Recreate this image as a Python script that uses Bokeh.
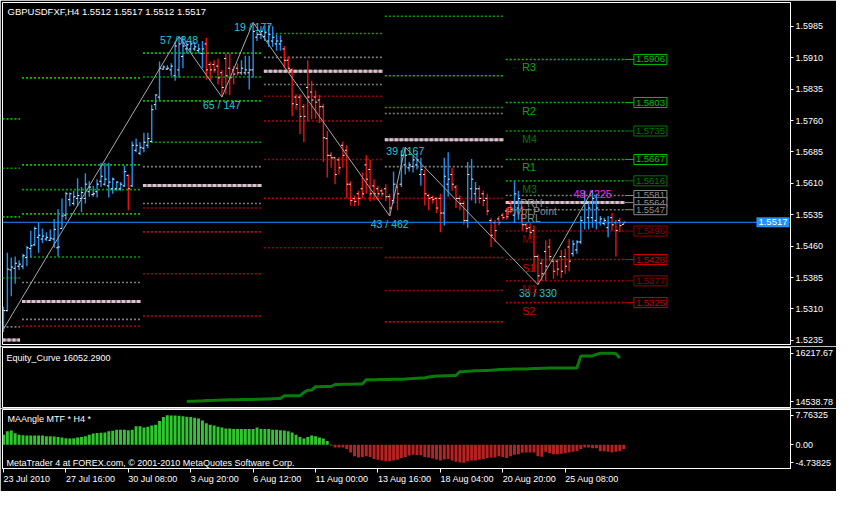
from bokeh.plotting import figure
from bokeh.models import Range1d, FixedTicker, ColumnDataSource, Label, Span, PrintfTickFormatter
from bokeh.layouts import column
from bokeh.embed import file_html
from bokeh.resources import INLINE
from bokeh.core.properties import value

FONT = "Liberation Sans"

# ---------------- data ----------------
symbol_title = "GBPUSDFXF,H4  1.5512 1.5517 1.5512 1.5517"
bid = 1.5517

opens = [1.5267, 1.5306, 1.5403, 1.5407, 1.5412, 1.5412, 1.5433, 1.5454, 1.5463, 1.5481,
         1.5477, 1.5477, 1.5474, 1.5477, 1.5456, 1.5502, 1.5534, 1.5571, 1.5562, 1.5574,
         1.5574, 1.5574, 1.5590, 1.5583, 1.5590, 1.5615, 1.5608, 1.5604, 1.5597, 1.5597,
         1.5597, 1.5604, 1.5629, 1.5604, 1.5689, 1.5682, 1.5694, 1.5701, 1.5710, 1.5798,
         1.5816, 1.5883, 1.5883, 1.5881, 1.5867, 1.5881, 1.5913, 1.5931, 1.5931, 1.5931,
         1.5927, 1.5920, 1.5943, 1.5894, 1.5894, 1.5890, 1.5874, 1.5908, 1.5885, 1.5881,
         1.5885, 1.5874, 1.5874, 1.5874, 1.5881, 1.5959, 1.5966, 1.5961, 1.5950, 1.5950,
         1.5943, 1.5943, 1.5931, 1.5904, 1.5881, 1.5816, 1.5816, 1.5793, 1.5839, 1.5828,
         1.5816, 1.5809, 1.5793, 1.5717, 1.5677, 1.5671, 1.5666, 1.5701, 1.5689, 1.5608,
         1.5574, 1.5585, 1.5597, 1.5654, 1.5643, 1.5604, 1.5597, 1.5592, 1.5597, 1.5578,
         1.5569, 1.5601, 1.5608, 1.5654, 1.5647, 1.5650, 1.5654, 1.5631, 1.5631, 1.5581,
         1.5576, 1.5574, 1.5574, 1.5539, 1.5608, 1.5631, 1.5601, 1.5574, 1.5562, 1.5521,
         1.5597, 1.5585, 1.5597, 1.5585, 1.5574, 1.5521, 1.5516, 1.5525, 1.5534, 1.5544,
         1.5562, 1.5534, 1.5551, 1.5551, 1.5511, 1.5504, 1.5497, 1.5435, 1.5419, 1.5447,
         1.5458, 1.5424, 1.5424, 1.5435, 1.5435, 1.5458, 1.5442, 1.5451, 1.5470, 1.5516,
         1.5528, 1.5528, 1.5521, 1.5516, 1.5514, 1.5504, 1.5528, 1.5516, 1.5521, 1.5512]
highs = [1.5315, 1.5444, 1.5433, 1.5435, 1.5426, 1.5442, 1.5461, 1.5497, 1.5507, 1.5516,
         1.5502, 1.5493, 1.5500, 1.5525, 1.5548, 1.5574, 1.5590, 1.5588, 1.5592, 1.5622,
         1.5601, 1.5634, 1.5615, 1.5604, 1.5620, 1.5659, 1.5659, 1.5659, 1.5624, 1.5615,
         1.5613, 1.5652, 1.5631, 1.5710, 1.5717, 1.5708, 1.5731, 1.5731, 1.5798, 1.5823,
         1.5901, 1.5892, 1.5892, 1.5897, 1.5948, 1.5961, 1.5961, 1.5950, 1.5948, 1.5948,
         1.5943, 1.5950, 1.5957, 1.5901, 1.5904, 1.5908, 1.5881, 1.5920, 1.5920, 1.5890,
         1.5897, 1.5904, 1.5915, 1.5915, 1.5994, 1.5973, 1.5985, 1.5985, 1.5989, 1.5985,
         1.5966, 1.5964, 1.5938, 1.5913, 1.5885, 1.5823, 1.5823, 1.5800, 1.5904, 1.5855,
         1.5832, 1.5821, 1.5800, 1.5735, 1.5684, 1.5673, 1.5673, 1.5710, 1.5701, 1.5615,
         1.5581, 1.5592, 1.5636, 1.5677, 1.5666, 1.5620, 1.5604, 1.5597, 1.5608, 1.5585,
         1.5638, 1.5608, 1.5689, 1.5696, 1.5661, 1.5677, 1.5682, 1.5671, 1.5643, 1.5585,
         1.5581, 1.5578, 1.5585, 1.5671, 1.5684, 1.5647, 1.5606, 1.5581, 1.5569, 1.5661,
         1.5668, 1.5613, 1.5604, 1.5592, 1.5585, 1.5528, 1.5523, 1.5532, 1.5539, 1.5551,
         1.5569, 1.5615, 1.5592, 1.5555, 1.5516, 1.5516, 1.5509, 1.5440, 1.5430, 1.5474,
         1.5477, 1.5428, 1.5430, 1.5451, 1.5454, 1.5477, 1.5474, 1.5474, 1.5532, 1.5592,
         1.5562, 1.5594, 1.5585, 1.5532, 1.5528, 1.5532, 1.5539, 1.5523, 1.5528, 1.5517]
lows = [1.5255, 1.5304, 1.5340, 1.5370, 1.5403, 1.5405, 1.5412, 1.5433, 1.5461, 1.5444,
        1.5467, 1.5472, 1.5472, 1.5456, 1.5435, 1.5502, 1.5523, 1.5555, 1.5557, 1.5555,
        1.5541, 1.5562, 1.5578, 1.5578, 1.5576, 1.5601, 1.5604, 1.5576, 1.5585, 1.5592,
        1.5592, 1.5601, 1.5546, 1.5601, 1.5684, 1.5677, 1.5684, 1.5694, 1.5708, 1.5786,
        1.5809, 1.5881, 1.5881, 1.5867, 1.5855, 1.5862, 1.5885, 1.5920, 1.5924, 1.5927,
        1.5920, 1.5885, 1.5858, 1.5855, 1.5874, 1.5846, 1.5816, 1.5823, 1.5821, 1.5846,
        1.5867, 1.5869, 1.5869, 1.5834, 1.5862, 1.5950, 1.5955, 1.5950, 1.5936, 1.5936,
        1.5927, 1.5927, 1.5885, 1.5874, 1.5770, 1.5786, 1.5728, 1.5708, 1.5758, 1.5763,
        1.5765, 1.5754, 1.5661, 1.5624, 1.5647, 1.5608, 1.5631, 1.5647, 1.5574, 1.5557,
        1.5555, 1.5557, 1.5574, 1.5585, 1.5567, 1.5569, 1.5569, 1.5578, 1.5567, 1.5532,
        1.5562, 1.5546, 1.5601, 1.5631, 1.5638, 1.5636, 1.5643, 1.5604, 1.5557, 1.5546,
        1.5562, 1.5539, 1.5493, 1.5509, 1.5578, 1.5592, 1.5551, 1.5546, 1.5511, 1.5504,
        1.5569, 1.5562, 1.5562, 1.5555, 1.5534, 1.5458, 1.5470, 1.5509, 1.5523, 1.5523,
        1.5539, 1.5516, 1.5523, 1.5497, 1.5493, 1.5477, 1.5400, 1.5368, 1.5377, 1.5377,
        1.5424, 1.5382, 1.5389, 1.5384, 1.5394, 1.5400, 1.5435, 1.5442, 1.5465, 1.5500,
        1.5500, 1.5504, 1.5500, 1.5509, 1.5509, 1.5481, 1.5497, 1.5435, 1.5493, 1.5512]
closes = [1.5306, 1.5405, 1.5410, 1.5419, 1.5417, 1.5437, 1.5456, 1.5461, 1.5502, 1.5486,
          1.5484, 1.5481, 1.5479, 1.5500, 1.5458, 1.5532, 1.5585, 1.5585, 1.5578, 1.5581,
          1.5588, 1.5608, 1.5601, 1.5585, 1.5608, 1.5627, 1.5620, 1.5613, 1.5620, 1.5613,
          1.5608, 1.5638, 1.5597, 1.5701, 1.5701, 1.5696, 1.5708, 1.5717, 1.5786, 1.5821,
          1.5885, 1.5888, 1.5885, 1.5890, 1.5938, 1.5943, 1.5938, 1.5941, 1.5943, 1.5936,
          1.5931, 1.5931, 1.5881, 1.5881, 1.5881, 1.5862, 1.5839, 1.5867, 1.5862, 1.5871,
          1.5874, 1.5885, 1.5881, 1.5881, 1.5973, 1.5966, 1.5973, 1.5971, 1.5966, 1.5959,
          1.5950, 1.5950, 1.5904, 1.5885, 1.5800, 1.5798, 1.5770, 1.5770, 1.5816, 1.5809,
          1.5804, 1.5793, 1.5719, 1.5677, 1.5671, 1.5631, 1.5647, 1.5677, 1.5608, 1.5569,
          1.5567, 1.5574, 1.5585, 1.5620, 1.5585, 1.5585, 1.5585, 1.5585, 1.5578, 1.5551,
          1.5608, 1.5585, 1.5677, 1.5677, 1.5654, 1.5666, 1.5666, 1.5643, 1.5585, 1.5574,
          1.5571, 1.5551, 1.5539, 1.5627, 1.5620, 1.5608, 1.5574, 1.5562, 1.5521, 1.5631,
          1.5620, 1.5597, 1.5574, 1.5569, 1.5544, 1.5486, 1.5497, 1.5516, 1.5528, 1.5530,
          1.5548, 1.5585, 1.5574, 1.5511, 1.5502, 1.5493, 1.5435, 1.5389, 1.5394, 1.5412,
          1.5435, 1.5400, 1.5405, 1.5400, 1.5412, 1.5424, 1.5465, 1.5470, 1.5521, 1.5562,
          1.5551, 1.5574, 1.5551, 1.5525, 1.5521, 1.5516, 1.5511, 1.5497, 1.5509, 1.5517]

# ZigZag swing points (bar index, price) and their labels
zz_idx = [0, 45, 56, 64, 99, 103, 137, 151]
zz_price = [1.5262, 1.5961, 1.5816, 1.5994, 1.5532, 1.5696, 1.5368, 1.5594]
zz_text = ["", "57 / 848", "65 / 147", "19 / 177", "43 / 462", "39 / 167", "38 / 330", "48 / 225"]

# weekly pivot levels (one value per week; None = off the chart)
week_start = [0, 5, 36, 67, 98, 129]
week_end = [5, 36, 67, 98, 129, 160]
pivot_levels = {
    "R3":  [None, 1.5862, None, None, None, 1.5906],
    "R2":  [1.5764, 1.5654, 1.5921, None, None, 1.5803],
    "M4":  [1.5646, 1.5595, 1.5864, None, 1.6009, 1.5735],
    "R1":  [1.5530, 1.5537, 1.5807, None, 1.5867, 1.5667],
    "M3":  [1.5384, 1.5434, 1.5708, 1.5968, 1.5791, 1.5616],
    "PRH": [1.5267, 1.5373, 1.5650, 1.5911, 1.5777, 1.5581],
    "Pivot Point": [1.5236, 1.5328, 1.5605, 1.5878, 1.5714, 1.5564],
    "PRL": [None, 1.5285, 1.5562, 1.5846, 1.5650, 1.5547],
    "M2":  [None, 1.5269, 1.5551, 1.5818, 1.5574, 1.5496],
    "S1":  [None, None, 1.5494, 1.5759, 1.5433, 1.5428],
    "M1":  [None, None, 1.5394, 1.5667, 1.5354, 1.5377],
    "S2":  [None, None, 1.5293, 1.5574, 1.5279, 1.5325],
    "M0":  [None, None, None, 1.5456, None, None],
}

price_ticks = [1.5985, 1.5910, 1.5835, 1.5760, 1.5685, 1.5610, 1.5535, 1.5460, 1.5385, 1.5310, 1.5235]

equity_first_bar = 47
equity = [14539, 14545, 14550, 14556, 14560, 14570, 14577, 14580, 14585, 14590,
          14595, 14598, 14600, 14603, 14605, 14607, 14607, 14610, 14615, 14620,
          14625, 14630, 14635, 14640, 14645, 14735, 14735, 14738, 14740, 14742,
          14850, 14933, 14940, 15052, 15055, 15058, 15060, 15062, 15132, 15135,
          15138, 15140, 15143, 15145, 15148, 15150, 15298, 15300, 15300, 15302,
          15305, 15305, 15308, 15310, 15312, 15315, 15320, 15330, 15340, 15350,
          15357, 15357, 15390, 15410, 15428, 15428, 15435, 15440, 15446, 15446,
          15577, 15585, 15595, 15600, 15607, 15610, 15615, 15620, 15630, 15640,
          15650, 15655, 15660, 15665, 15670, 15672, 15675, 15675, 15680, 15685,
          15690, 15695, 15700, 15702, 15704, 15704, 15704, 15704, 15704, 15704,
          15704, 16120, 16120, 16120, 16125, 16180, 16217.67, 16217, 16217, 16217,
          16200, 16052.29]
equity_ticks = [16217.67, 14538.78]

ma_angle = [2.63, 3.53, 3.76, 3.01, 2.63, 2.48, 2.41, 2.41, 2.41, 2.41,
            2.41, 2.26, 2.26, 2.18, 2.03, 1.88, 1.73, 1.65, 1.73, 1.88,
            2.03, 2.26, 2.63, 2.93, 3.08, 3.16, 3.23, 3.53, 3.68, 3.98,
            3.98, 3.98, 3.83, 3.98, 4.89, 4.89, 4.51, 4.74, 5.04, 5.26,
            6.24, 7.29, 7.76325, 7.74, 7.74, 7.67, 7.52, 7.37, 7.29, 7.14,
            6.92, 6.39, 5.64, 5.26, 5.04, 4.74, 4.51, 4.29, 4.29, 4.14,
            4.14, 4.14, 4.14, 4.14, 4.14, 4.51, 4.14, 4.14, 4.14, 3.98,
            3.98, 3.83, 3.76, 3.53, 3.23, 2.63, 2.03, 1.65, 2.03, 2.41,
            2.26, 1.88, 1.65, 0.98, -0.15, -0.75, -0.75, -0.75, -1.13, -2.03,
            -3.01, -3.38, -3.23, -3.01, -3.23, -3.76, -3.98, -4.14, -4.29, -4.29,
            -4.14, -3.98, -3.53, -3.23, -2.86, -2.63, -2.78, -2.78, -3.23, -3.38,
            -3.61, -3.91, -4.14, -3.91, -3.76, -4.14, -4.51, -4.66, -4.73825, -4.36,
            -4.14, -4.14, -3.98, -3.76, -3.53, -3.38, -3.38, -3.01, -3.23, -3.53,
            -3.01, -2.63, -2.48, -2.11, -2.03, -2.03, -2.03, -3.01, -3.16, -1.88,
            -2.26, -2.48, -2.48, -2.41, -2.26, -2.03, -1.88, -1.73, -1.13, -0.75,
            -0.75, -0.90, -0.90, -1.73, -1.73, -1.88, -2.03, -1.88, -1.73, -1.13]
ma_ticks = [7.76325, 0.0, -4.73825]
ma_tick_text = ["7.76325", "0.00", "-4.73825"]

time_ticks = [0, 16, 32, 48, 64, 80, 96, 112, 128, 144]
time_labels = ["23 Jul 2010", "27 Jul 16:00", "30 Jul 08:00", "3 Aug 20:00", "6 Aug 12:00",
               "11 Aug 00:00", "13 Aug 16:00", "18 Aug 04:00", "20 Aug 20:00", "25 Aug 08:00"]

# ---------------- styling ----------------
UP = "#2290ea"
DOWN = "#e81010"
CYAN = "#22c8d8"
MAGENTA = "#ff20ff"
level_style = {   # line colour, label colour
    "R3": ("#00c000", "#00b000"), "R2": ("#00c000", "#00b000"), "R1": ("#00c000", "#00b000"),
    "M4": ("#00a000", "#007800"), "M3": ("#00a000", "#007800"),
    "PRH": ("#7c7c7c", "#8c8c8c"), "PRL": ("#7c7c7c", "#8c8c8c"),
    "Pivot Point": ("#c8b0bc", "#8c8c8c"),
    "M2": ("#a00000", "#900000"), "M1": ("#a00000", "#900000"), "M0": ("#a00000", "#900000"),
    "S1": ("#c80000", "#d00000"), "S2": ("#c80000", "#d00000"),
}

W = 836
BR = 46
xr = Range1d(-0.25, 201.75)


def style_axis(ax):
    ax.axis_line_color = "white"
    ax.major_tick_line_color = "white"
    ax.minor_tick_line_color = None
    ax.major_tick_out = 3
    ax.major_tick_in = 0
    ax.major_label_text_color = "white"
    ax.major_label_text_font = FONT
    ax.major_label_text_font_size = "9px"
    ax.major_label_standoff = 2


def make_fig(height, yr, top, bottom, xaxis):
    p = figure(width=W, height=height, x_range=xr, y_range=yr, output_backend="svg",
               toolbar_location=None, y_axis_location="right",
               x_axis_location="below" if xaxis else None,
               min_border_left=2, min_border_right=BR, min_border_top=top, min_border_bottom=bottom,
               background_fill_color="black", border_fill_color="black",
               outline_line_color="white", outline_line_width=1)
    p.xgrid.visible = False
    p.ygrid.visible = False
    for ax in p.yaxis:
        style_axis(ax)
    return p


# ---------------- main price panel ----------------
p1 = make_fig(346, Range1d(1.5225, 1.6042), 2, 2, False)
p1.yaxis.ticker = FixedTicker(ticks=price_ticks)
p1.yaxis.formatter = PrintfTickFormatter(format="%.4f")

# pivot lines
seg = dict(x0=[], x1=[], y=[], c=[])
pp = dict(x0=[], x1=[], y=[])
for name, vals in pivot_levels.items():
    for w, v in enumerate(vals):
        if v is None:
            continue
        x0, x1 = week_start[w] - 0.25, week_end[w] - 0.75
        if name == "Pivot Point":
            pp["x0"].append(x0); pp["x1"].append(x1); pp["y"].append(v)
        else:
            seg["x0"].append(x0); seg["x1"].append(x1); seg["y"].append(v)
            seg["c"].append(level_style[name][0])
p1.segment(x0="x0", y0="y", x1="x1", y1="y", line_color="c", line_width=1.6,
           line_dash="2 2", source=ColumnDataSource(seg))
pps = ColumnDataSource(pp)
p1.segment(x0="x0", y0="y", x1="x1", y1="y", line_color="#9a7088", line_width=3, source=pps)
p1.segment(x0="x0", y0="y", x1="x1", y1="y", line_color="#cfc8cc", line_width=3,
           line_dash="3 2", source=pps)

# bid line
p1.add_layout(Span(location=bid, dimension="width", line_color="#1e90ff", line_width=1))

# OHLC bars
n = len(closes)
xs = list(range(n))
bar_src = ColumnDataSource(dict(
    x=xs, o=opens, h=highs, l=lows, c=closes,
    xl=[i - 0.45 for i in xs], xr=[i + 0.45 for i in xs],
    col=[UP if c >= o else DOWN for o, c in zip(opens, closes)]))
p1.segment(x0="x", y0="l", x1="x", y1="h", line_color="col", line_width=1.4, source=bar_src)
p1.segment(x0="xl", y0="o", x1="x", y1="o", line_color="white", line_width=1, source=bar_src)
p1.segment(x0="x", y0="c", x1="xr", y1="c", line_color="white", line_width=1, source=bar_src)

# zigzag
p1.line(zz_idx, zz_price, line_color="#a8a8a8", line_width=1)
zz_hi = [zz_price[k] > zz_price[k - 1] for k in range(1, len(zz_idx))]
zz_src = ColumnDataSource(dict(
    x=zz_idx[1:], y=zz_price[1:], t=zz_text[1:],
    col=[CYAN] * (len(zz_idx) - 2) + [MAGENTA],
    off=[4 if h else 8 for h in zz_hi]))
p1.text(x="x", y="y", text="t", text_color="col", y_offset="off", text_align="center",
        text_baseline="middle", text_font=value(FONT), text_font_size="10.5px", source=zz_src)

# current-week level names, connectors and price boxes
last = len(week_start) - 1
ws, we = week_start[last], week_end[last]
nm = dict(x=[], y=[], t=[], c=[])
for name, vals in pivot_levels.items():
    v = vals[last]
    if v is None:
        continue
    lc, tc = level_style[name]
    if name == "Pivot Point":
        lx = ws
        box_c = "#8c8c8c"
    elif name in ("PRH", "PRL"):
        lx = ws + 3.5
        box_c = "#8c8c8c"
    else:
        lx = ws + 4
        box_c = lc if name[0] in "RS" else tc
    nm["x"].append(lx); nm["y"].append(v); nm["t"].append(name); nm["c"].append(tc)
    p1.segment(x0=[we - 0.75], y0=[v], x1=[we + 1.6], y1=[v], line_color=box_c, line_width=1)
    p1.add_layout(Label(x=we + 1.6, y=v, text=f"{v:.4f}", text_baseline="middle",
                        text_font=FONT, text_font_size="9.5px", text_color=box_c,
                        border_line_color=box_c, border_line_width=1,
                        background_fill_color="black", padding=2))
p1.text(x="x", y="y", text="t", text_color="c", y_offset=2, text_align="left",
        text_baseline="top", text_font=value(FONT), text_font_size="10.5px",
        source=ColumnDataSource(nm))

# current bid price tag (kept just inside the right edge of the price panel)
p1.add_layout(Label(x=xr.end, y=bid, x_offset=-1, text=f"{bid:.4f}", text_baseline="middle",
                    text_align="right", text_font=FONT, text_font_size="9.5px",
                    text_color="white", background_fill_color="#1e90ff", padding=2))
p1.add_layout(Label(x=xr.start, y=1.6042, x_offset=5, y_offset=-3, text=symbol_title,
                    text_baseline="top", text_font=FONT, text_font_size="9.5px",
                    text_color="white"))

# ---------------- equity panel ----------------
p2 = make_fig(62, Range1d(14330, 16420), 1, 1, False)
p2.yaxis.ticker = FixedTicker(ticks=equity_ticks)
p2.yaxis.formatter = PrintfTickFormatter(format="%.2f")
eq_x = list(range(equity_first_bar, equity_first_bar + len(equity)))
p2.line(eq_x, equity, line_color="#0a7a0a", line_width=3)
p2.add_layout(Label(x=xr.start, y=16420, x_offset=4, y_offset=-5,
                    text=f"Equity_Curve {equity[-1]:.4f}", text_baseline="top",
                    text_font=FONT, text_font_size="9px", text_color="white"))

# ---------------- MA angle panel ----------------
p3 = make_fig(83, Range1d(-6.27, 9.29), 1, 21, True)
p3.yaxis.ticker = FixedTicker(ticks=ma_ticks)
p3.yaxis.major_label_overrides = dict(zip(ma_ticks, ma_tick_text))
ma_col = []
for v in ma_angle:
    if abs(v) < 0.3:
        ma_col.append("#e8d000")
    elif v > 0:
        ma_col.append("#2fc62f")
    else:
        ma_col.append("#b82222")
p3.vbar(x=list(range(len(ma_angle))), top=ma_angle, bottom=0, width=0.75,
        fill_color=ma_col, line_color=None)
xa = p3.xaxis[0]
style_axis(xa)
xa.ticker = FixedTicker(ticks=time_ticks)
xa.major_label_overrides = dict(zip(time_ticks, time_labels))
xa.major_label_orientation = -1e-9   # nearly horizontal: labels start at their tick
xa.major_tick_out = 4
xa.major_label_standoff = 6
p3.add_layout(Label(x=xr.start, y=9.29, x_offset=5, y_offset=-4, text="MAAngle MTF * H4 *",
                    text_baseline="top", text_font=FONT, text_font_size="9px",
                    text_color="white"))
p3.add_layout(Label(x=xr.start, y=-6.27, x_offset=4, y_offset=1,
                    text="MetaTrader 4 at FOREX.com, \u00a9 2001-2010 MetaQuotes Software Corp.",
                    text_baseline="bottom", text_font=FONT, text_font_size="9px",
                    text_color="white"))

layout = column(p1, p2, p3, spacing=0)
open("out.html", "w").write(file_html(layout, INLINE))
